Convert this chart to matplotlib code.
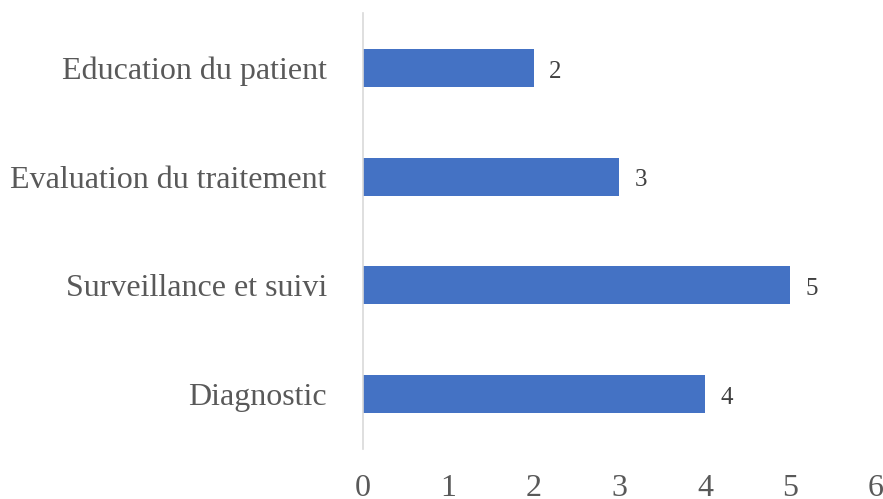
import matplotlib.pyplot as plt

# données du graphique
categories = ["Diagnostic", "Surveillance et suivi", "Evaluation du traitement", "Education du patient"]
valeurs = [4, 5, 3, 2]
graduations = [0, 1, 2, 3, 4, 5, 6]

plt.rcParams['font.family'] = ['Liberation Serif', 'DejaVu Serif']

fig = plt.figure(figsize=(8.83, 4.99), dpi=100)
ax = fig.add_axes([0.411, 0.101, 0.581, 0.872])

pos = range(len(categories))
bars = ax.barh(pos, valeurs, height=0.35, color='#4472C4')

# étiquettes de valeur à droite des barres
for b, v in zip(bars, valeurs):
    ax.text(b.get_width() + 0.18, b.get_y() + b.get_height() / 2 - 0.035, str(v),
            va='center', ha='left', fontsize=18, color='#404040')

ax.set_yticks(list(pos))
ax.set_yticklabels(categories, fontsize=23, color='#595959')
ax.set_xticks(graduations)
ax.set_xticklabels([str(g) for g in graduations], fontsize=23, color='#595959')
ax.set_xlim(0, 6)
ax.set_ylim(-0.5, 3.5)

for s in ['top', 'right', 'bottom']:
    ax.spines[s].set_visible(False)
ax.spines['left'].set_color('#D9D9D9')
ax.spines['left'].set_linewidth(1.2)
ax.tick_params(axis='both', length=0)
ax.tick_params(axis='y', pad=26)
ax.tick_params(axis='x', pad=18)

fig.savefig('out.png', dpi=100)
